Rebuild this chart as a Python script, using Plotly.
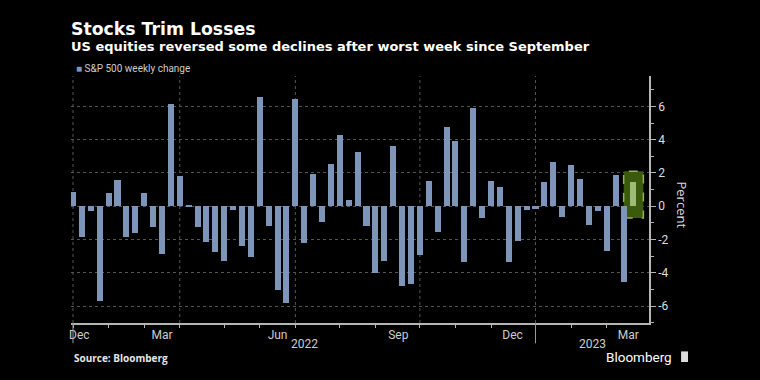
import pandas as pd
import plotly.graph_objects as go

# ---- data ----
week_end = pd.date_range("2021-12-31", periods=64, freq="W-FRI")
weekly_change = [
    0.87, -1.87, -0.30, -5.68, 0.77, 1.55, -1.82, -1.58, 0.82, -1.27,
    -2.88, 6.16, 1.79, 0.06, -1.26, -2.13, -2.75, -3.27, -0.21, -2.41,
    -3.05, 6.58, -1.20, -5.05, -5.79, 6.45, -2.21, 1.95, -0.93, 2.55,
    4.26, 0.36, 3.26, -1.21, -4.04, -3.29, 3.65, -4.77, -4.65, -2.91,
    1.51, -1.55, 4.74, 3.95, -3.35, 5.92, -0.69, 1.53, 1.13, -3.37,
    -2.09, -0.20, -0.14, 1.45, 2.67, -0.66, 2.47, 1.62, -1.11, -0.27,
    -2.67, 1.90, -4.55, 1.43,
]
series_name = "S&P 500 weekly change"
title_text = "Stocks Trim Losses"
subtitle_text = "US equities reversed some declines after worst week since September"

month_label_dates = ["2022-01-05", "2022-03-11", "2022-06-10", "2022-09-13",
                     "2022-12-12", "2023-03-13"]
month_labels = ["Dec", "Mar", "Jun", "Sep", "Dec", "Mar"]
month_end_ticks = ["2021-12-31", "2022-01-28", "2022-02-25", "2022-03-25",
                   "2022-04-29", "2022-05-27", "2022-06-24", "2022-07-29",
                   "2022-08-26", "2022-09-30", "2022-10-28", "2022-11-25",
                   "2022-12-30", "2023-01-27", "2023-02-24"]
quarter_grid = ["2021-12-31", "2022-03-25", "2022-06-24", "2022-09-30", "2022-12-30"]
year_breaks = ["2021-12-31", "2022-12-30"]
year_labels = ["2022", "2023"]
year_label_dates = ["2022-07-01", "2023-02-13"]
y_ticks = [-6, -4, -2, 0, 2, 4, 6]
y_ticktext = ["-6", "-4", "-2", "0", "2", "4", "6"]

BAR = "#7e95ba"
HIGHLIGHT_BAR = "#9dbc78"
FONT = "Open Sans"
TITLE_FONT = "DejaVu Sans"
NARROW = "Liberation Sans Narrow, Roboto, sans-serif"

colors = [BAR] * (len(weekly_change) - 1) + [HIGHLIGHT_BAR]
week_ms = 7 * 24 * 3600 * 1000

fig = go.Figure()
fig.add_trace(go.Bar(
    x=week_end, y=weekly_change, name=series_name,
    marker=dict(color=colors, line=dict(width=0)),
    width=[0.68 * week_ms] * len(weekly_change),
    showlegend=False,
))

shapes = []
for d in quarter_grid:
    shapes.append(dict(type="line", xref="x", yref="paper", x0=d, x1=d, y0=0, y1=1,
                       line=dict(color="#555555", width=1, dash="dot"), layer="below"))
for d in year_breaks:
    shapes.append(dict(type="line", xref="x", yref="paper", x0=d, x1=d, y0=-0.082, y1=0,
                       line=dict(color="#9a9a9a", width=1)))
last_d = week_end[-1]
last_v = weekly_change[-1]
shapes.append(dict(type="rect", xref="x", yref="y",
                   x0=last_d - pd.Timedelta(days=7.6), x1=last_d + pd.Timedelta(days=7.9),
                   y0=-0.70, y1=last_v + 0.68,
                   fillcolor="#3b5a0e", line=dict(color="#90b83a", width=1.5, dash="dash"),
                   layer="between"))
# small logo mark next to "Bloomberg"
shapes.append(dict(type="rect", xref="paper", yref="paper",
                   x0=1.0555, x1=1.0675, y0=-0.158, y1=-0.115,
                   fillcolor="#dddddd", line=dict(width=0)))

heading = (f"<span style='font-family:{TITLE_FONT};font-size:17.3px'><b>{title_text}</b></span>"
           f"<br><span style='font-family:{TITLE_FONT};font-size:13px'><b>{subtitle_text}</b></span>")

annotations = [
    dict(text=heading, xref="paper", yref="paper", x=-0.003, y=1.238,
         xanchor="left", yanchor="top", align="left", showarrow=False,
         font=dict(family=FONT, size=12.6, color="#ffffff")),
    dict(text=f"<span style='color:{BAR}'>■</span> {series_name}", xref="paper", yref="paper",
         x=0.005, y=1.031, xanchor="left", yanchor="middle", showarrow=False,
         font=dict(family=NARROW, size=10, color="#cccccc")),
    dict(text="<b>Source: Bloomberg</b>", xref="paper", yref="paper", x=0.002, y=-0.142,
         xanchor="left", yanchor="middle", showarrow=False,
         font=dict(family=FONT, size=10, color="#e6e6e6")),
    dict(text="Bloomberg", xref="paper", yref="paper", x=1.0425, y=-0.137,
         xanchor="right", yanchor="middle", showarrow=False,
         font=dict(family="Roboto", size=13.5, color="#ffffff")),
    dict(text="Percent", xref="paper", yref="paper", x=1.057, y=0.476, textangle=90,
         xanchor="center", yanchor="middle", showarrow=False,
         font=dict(family=FONT, size=13, color="#dddddd")),
]
for lab, d in zip(year_labels, year_label_dates):
    annotations.append(dict(text=lab, xref="x", yref="paper", x=d, y=-0.085,
                            xanchor="center", yanchor="middle", showarrow=False,
                            font=dict(family=NARROW, size=12, color="#cccccc")))

fig.update_layout(
    width=760, height=380,
    margin=dict(l=71, r=111, t=76, b=57),
    paper_bgcolor="#000000", plot_bgcolor="#000000",
    bargap=0,
    shapes=shapes, annotations=annotations,
    showlegend=False,
    xaxis=dict(
        type="date",
        range=[pd.Timestamp("2021-12-29 10:00"), pd.Timestamp("2023-03-29 08:00")],
        showgrid=False, zeroline=False,
        showline=True, linecolor="#b5b5b5", linewidth=1.5,
        tickmode="array", tickvals=month_label_dates, ticktext=month_labels,
        ticks="", tickfont=dict(family=NARROW, size=12, color="#cccccc"),
        minor=dict(tickmode="array", tickvals=month_end_ticks, ticks="outside",
                   ticklen=3, tickcolor="#b5b5b5", showgrid=False),
    ),
    yaxis=dict(
        side="right", range=[-7.02, 7.83],
        tickmode="array", tickvals=y_ticks, ticktext=y_ticktext,
        ticks="outside", ticklen=5, tickcolor="#b5b5b5",
        minor=dict(dtick=1, ticks="outside", ticklen=3, tickcolor="#b5b5b5", showgrid=False),
        showgrid=True, gridcolor="#555555", griddash="dot", gridwidth=1,
        zeroline=False, showline=True, linecolor="#b5b5b5", linewidth=1.5,
        tickfont=dict(family=NARROW, size=12, color="#dddddd"),
    ),
)

fig.write_html(
    "out.html",
    config={"displayModeBar": False},
    post_script="document.body.style.margin='0';document.body.style.background='#000';",
)
